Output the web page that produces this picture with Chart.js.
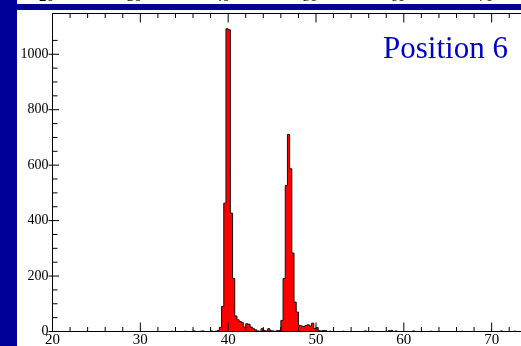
<!DOCTYPE html>
<html>
<head>
<meta charset="utf-8">
<script src="https://cdn.jsdelivr.net/npm/chart.js@4.4.1/dist/chart.umd.min.js"></script>
<style>
  html, body { margin: 0; padding: 0; }
  body {
    width: 521px; height: 346px; overflow: hidden; position: relative;
    background: #fff; font-family: "Liberation Serif", serif;
  }
  #side { position: absolute; left: 0; top: 0; width: 17px; height: 346px; background: #000099; }
  #band { position: absolute; left: 0; top: 4px; width: 521px; height: 6px; background: #000099; }
  #strip { position: absolute; left: 17px; top: 0; width: 504px; height: 4px; overflow: hidden; }
  #strip span {
    position: absolute; top: -11px; font-size: 15px; line-height: 15px;
    transform: translateX(-50%);
  }
  #plot { position: absolute; left: 17px; top: 10px; }
  #label {
    position: absolute; left: 383px; top: 32px; font-size: 31px; line-height: 31px;
    color: #0000cc; white-space: nowrap;
  }
</style>
</head>
<body>
<div id="strip"></div>
<div id="band"></div>
<div id="side"></div>
<canvas id="plot" width="540" height="336"></canvas>
<div id="label">Position 6</div>
<script>
// histogram bins: lower edge of each filled bin and its count
const binWidth = 0.25;
const binLow = [
  33.5, 35.0, 36.0, 36.75, 37.0, 38.0, 38.5, 38.75,
  39.0, 39.25, 39.5, 39.75, 40.0, 40.25, 40.5, 40.75,
  41.0, 41.25, 41.5, 41.75, 42.0, 42.25, 42.5, 42.75,
  43.0, 43.25, 43.5, 43.75, 44.0, 44.25, 44.5, 44.75,
  45.0, 45.25, 45.5, 45.75, 46.0, 46.25, 46.5, 46.75,
  47.0, 47.25, 47.5, 47.75, 48.0, 48.25, 48.5, 48.75,
  49.0, 49.25, 49.5, 49.75, 50.0, 50.25, 50.5, 50.75,
  51.0, 51.5, 53.0, 55.5, 56.25, 58.25, 58.5, 59.0,
  61.0, 63.0, 66.5, 71.0, 72.5
];
const binCount = [
  1, 1, 2, 1, 2, 2, 1, 4,
  15, 90, 463, 1092, 1088, 427, 191, 56,
  42, 36, 32, 16, 28, 26, 16, 10,
  6, 2, 1, 10, 4, 2, 10, 3,
  2, 1, 3, 4, 40, 191, 527, 711,
  587, 283, 106, 70, 22, 20, 18, 22,
  24, 20, 30, 10, 14, 3, 2, 4,
  3, 1, 1, 2, 1, 3, 4, 2,
  2, 1, 1, 2, 1
];
const xRange = [20, 76];
const yRange = [0, 1147];
const xTickLabels = [20, 30, 40, 50, 60, 70];
const yTickLabels = [0, 200, 400, 600, 800, 1000];

// one point per bin edge, empty bins stay at zero
const counts = new Map(binLow.map((x, i) => [x, binCount[i]]));
const hist = [];
const nBins = Math.round((xRange[1] - xRange[0]) / binWidth);
for (let i = 0; i <= nBins; i++) {
  const x = xRange[0] + i * binWidth;
  hist.push({ x: x, y: counts.get(x) || 0 });
}

// frame and inward tick marks, drawn over the histogram
const frameTicks = {
  id: 'frameTicks',
  afterDatasetsDraw(chart) {
    const { ctx, chartArea: a, scales: { x, y } } = chart;
    ctx.save();
    ctx.strokeStyle = '#000';
    ctx.lineWidth = 1;
    ctx.beginPath();
    ctx.moveTo(a.right, a.top);
    ctx.lineTo(a.left, a.top);
    ctx.lineTo(a.left, a.bottom);
    ctx.lineTo(a.right, a.bottom);
    x.ticks.forEach(t => {
      if (t.value % 2) return;
      const px = x.getPixelForValue(t.value);
      const len = t.value % 10 === 0 ? 9 : 4.5;
      ctx.moveTo(px, a.bottom);
      ctx.lineTo(px, a.bottom - len);
      ctx.moveTo(px, a.top);
      ctx.lineTo(px, a.top + len);
    });
    y.ticks.forEach(t => {
      if (t.value % 50) return;
      const py = y.getPixelForValue(t.value);
      const major = t.value % 200 === 0;
      ctx.moveTo(a.left - (major ? 4 : 0), py);
      ctx.lineTo(a.left + (major ? 6.5 : 5), py);
    });
    ctx.stroke();
    ctx.restore();
  }
};

// fixed axis boxes so the plot frame lands at the same place every time
function fixX(s) {
  s.height = 14.5;
  s.paddingLeft = 0;
  s.paddingRight = 0;
}
function fixY(s) {
  s.width = 35.5;
  s.paddingTop = 0;
  s.paddingBottom = 0;
}

const chart = new Chart(document.getElementById('plot'), {
  type: 'line',
  data: {
    datasets: [{
      data: hist,
      stepped: 'before',
      fill: 'origin',
      backgroundColor: '#ff0000',
      borderColor: '#111',
      borderWidth: 1,
      pointRadius: 0,
    }],
  },
  options: {
    responsive: false,
    animation: false,
    events: [],
    layout: { padding: { left: 0, top: 3.5, right: 12.65, bottom: 0 } },
    plugins: { legend: { display: false }, tooltip: { enabled: false } },
    scales: {
      x: {
        type: 'linear',
        min: xRange[0],
        max: xRange[1],
        grid: { display: false, drawTicks: false },
        border: { display: false },
        afterFit: fixX,
        ticks: {
          stepSize: 2,
          autoSkip: false,
          maxRotation: 0,
          padding: 0,
          color: '#000',
          font: { family: 'Liberation Serif', size: 15 },
          callback: v => xTickLabels.includes(v) ? String(v) : '',
        },
      },
      y: {
        type: 'linear',
        min: yRange[0],
        max: yRange[1],
        grid: { display: false, drawTicks: false },
        border: { display: false },
        afterFit: fixY,
        ticks: {
          stepSize: 50,
          autoSkip: false,
          padding: 4,
          color: '#000',
          font: { family: 'Liberation Serif', size: 14 },
          callback: v => yTickLabels.includes(v) ? String(v) : '',
        },
      },
    },
  },
  plugins: [frameTicks],
});

// bottom edge of the axis labels of the panel above
const strip = document.getElementById('strip');
xTickLabels.forEach(v => {
  const s = document.createElement('span');
  s.textContent = v;
  s.style.left = (chart.scales.x.getPixelForValue(v) - 6) + 'px';
  strip.appendChild(s);
});
</script>
</body>
</html>
